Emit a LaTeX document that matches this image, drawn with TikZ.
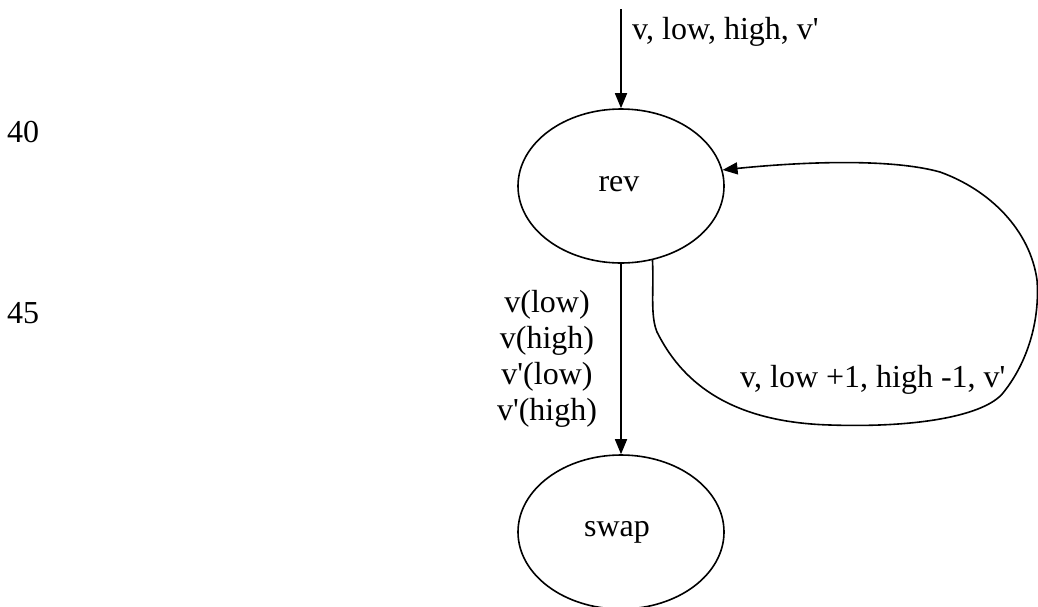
\documentclass[tikz,border=0pt]{standalone}
\usepackage{fontspec}
\setmainfont{Liberation Serif}
\usetikzlibrary{arrows.meta,shapes.geometric}
% straight prime mark, from a font loaded without the TeX quote mapping
\font\plainserif="Liberation Serif" at 32pt
\newcommand{\pr}{{\plainserif\char"27}}
\begin{document}
\begin{tikzpicture}[x=1pt,y=-1pt,
  every node/.style={font=\fontsize{32}{36}\selectfont, inner sep=0pt},
  state/.style={draw, ellipse, line width=1.6pt, minimum width=206pt, minimum height=154pt},
  flow/.style={line width=1.6pt, -{Triangle[length=15pt,width=12pt]}},
  lbl/.style={anchor=base west}]
  \useasboundingbox (0,0) rectangle (1038,606);

  % line numbers
  \node[lbl] (n40) at (7,142) {40};
  \node[lbl] (n45) at (7,323) {45};

  % states
  \node[state] (rev) at (621,186) {};
  \node[anchor=base] (revtxt) at (619,191) {rev};
  \node[state] (swap) at (621,532) {};
  \node[anchor=base] (swaptxt) at (617,536) {swap};

  % entry arrow
  \coordinate (entry) at (621,9);
  \draw[flow] (entry) -- (rev.north);
  \node[lbl] (inlbl) at (632,39) {v, low, high, v\pr};

  % rev -> swap (anchored on the baseline of its last line)
  \draw[flow] (rev.south) -- (swap.north);
  \node[align=center, anchor=base] (swlbl) at (547,420) {v(low)\\v(high)\\v\pr(low)\\v\pr(high)};

  % recursive call
  \coordinate (k1) at (657,332);
  \coordinate (k2) at (830,425);
  \coordinate (k3) at (1003,393);
  \coordinate (k4) at (1037,280);
  \coordinate (k5) at (940,172);
  \draw[flow] (rev.-67) .. controls (654,290) and (650,315) .. (k1)
    .. controls (680,378) and (725,422) .. (k2)
    .. controls (920,428) and (985,415) .. (k3)
    .. controls (1028,362) and (1040,320) .. (k4)
    .. controls (1030,230) and (990,190) .. (k5)
    .. controls (890,158) and (800,162) .. (rev.9);
  \node[lbl] (looplbl) at (740,387) {v, low +1, high -1, v\pr};
\end{tikzpicture}
\end{document}
